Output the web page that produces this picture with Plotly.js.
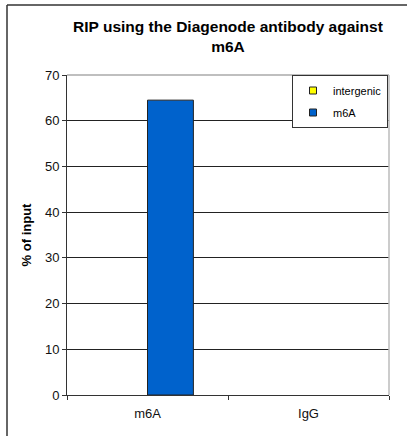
<!DOCTYPE html>
<html>
<head>
<meta charset="utf-8">
<script src="https://cdn.plot.ly/plotly-3.0.1.min.js"></script>
<style>html,body{margin:0;padding:0;background:#fff;overflow:hidden}#chart{width:407px;height:436px}</style>
</head>
<body>
<div id="chart"></div>
<script>
const categories = ["m6A", "IgG"];
const seriesNames = ["intergenic", "m6A"];
const seriesColors = ["#FFFF00", "#0062CC"];
const intergenicValues = [0, 0];
const m6aValues = [64.5, 0];
const yTicks = [0, 10, 20, 30, 40, 50, 60, 70];

const L = 67, R = 18, T = 75, B = 41, W = 407, H = 436;
const pw = W - L - R, ph = H - T - B;
const px = x => (x - L) / pw;
const py = y => (H - B - y) / ph;
const shown = arr => arr.map(v => (v === 0 ? null : v));

const seriesValues = [intergenicValues, m6aValues];
const traces = [];
seriesNames.forEach((name, i) => {
  traces.push({type: "bar", name: name, x: categories, y: shown(seriesValues[i]), showlegend: false,
    legendgroup: "g" + i, marker: {color: seriesColors[i], line: {color: "#222", width: 1}}});
});
seriesNames.forEach((name, i) => {
  traces.push({type: "scatter", mode: "markers", name: name, x: [null], y: [null], showlegend: true,
    legendgroup: "g" + i, marker: {symbol: "square", size: 7, color: seriesColors[i], line: {color: "#222", width: 1}}});
});

const layout = {
  width: W, height: H,
  margin: {l: L, r: R, t: T, b: B},
  paper_bgcolor: "#fff", plot_bgcolor: "#fff",
  font: {family: "Liberation Sans, Arial, sans-serif", color: "#111", size: 13},
  title: {text: "<b>RIP using the Diagenode antibody against<br>m6A</b>",
          font: {size: 15.5, color: "#000"}, x: 0.5, xref: "paper", y: 1 - 32 / H, yanchor: "top", yref: "container"},
  barmode: "group", bargap: 0.43, bargroupgap: 0,
  showlegend: true,
  legend: {x: px(388), xanchor: "right", y: 1, yanchor: "top", bgcolor: "#fff",
           bordercolor: "#333", borderwidth: 1, font: {size: 11, color: "#000"},
           traceorder: "grouped", tracegroupgap: 3, itemwidth: 30},
  xaxis: {type: "category", tickson: "boundaries", ticks: "outside", ticklen: 4, tickcolor: "#333",
          showline: true, linecolor: "#333", linewidth: 1, showgrid: false, zeroline: false,
          tickfont: {size: 13, color: "#111"}, ticklabelstandoff: 6, fixedrange: true},
  yaxis: {range: [0, 70], tickvals: yTicks, ticks: "outside", ticklen: 4, tickcolor: "#333",
          showline: true, linecolor: "#333", linewidth: 1, showgrid: true, gridcolor: "#222", gridwidth: 1,
          zeroline: false, tickfont: {size: 13, color: "#111"},
          title: {text: "<b>% of input</b>", font: {size: 13, color: "#000"}, standoff: 10}, fixedrange: true},
  shapes: [
    {type: "line", xref: "paper", yref: "paper", x0: 0, x1: 1, y0: 1, y1: 1, line: {color: "#aaa", width: 1.5}, layer: "above"},
    {type: "line", xref: "paper", yref: "paper", x0: 1, x1: 1, y0: 0, y1: 1, line: {color: "#bbb", width: 1.5}, layer: "above"},
    {type: "line", xref: "paper", yref: "paper", x0: px(7), x1: px(420), y0: py(5), y1: py(5), line: {color: "#333", width: 1.5}},
    {type: "line", xref: "paper", yref: "paper", x0: px(7), x1: px(7), y0: py(5), y1: py(450), line: {color: "#333", width: 1.5}}
  ]
};

Plotly.newPlot("chart", traces, layout, {displayModeBar: false, staticPlot: true});
</script>
</body>
</html>
